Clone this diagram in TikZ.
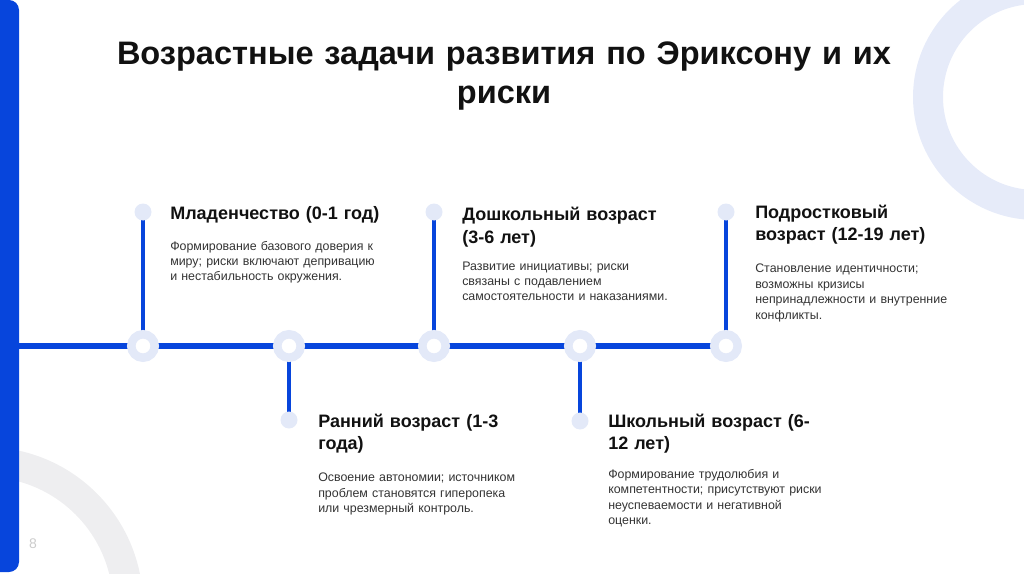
\documentclass[tikz,border=0pt]{standalone}
\usepackage{fontspec}
\setmainfont{Liberation Sans}
\usetikzlibrary{backgrounds}
\definecolor{mainblue}{HTML}{0745DC}
\definecolor{ringc}{HTML}{E3E9F8}
\definecolor{decoblue}{HTML}{E6EBF9}
\definecolor{decogray}{HTML}{EEEEF0}
\definecolor{headc}{HTML}{111111}
\definecolor{descc}{HTML}{333333}
\definecolor{numc}{HTML}{CCCCCC}
\tikzset{
  hub/.style={circle, draw=ringc, line width=6.4pt, fill=white, minimum size=17.6pt, inner sep=0pt},
  dot/.style={circle, fill=ringc, minimum size=12.75pt, inner sep=0pt},
  hline/.style={draw=mainblue, line width=4.5pt},
  vline/.style={draw=mainblue, line width=3.6pt},
  headtxt/.style={anchor=base west, inner sep=0pt, text width=240pt, align=left, text=headc,
     font=\fontsize{13.5}{17}\selectfont\bfseries},
  desctxt/.style={anchor=base west, inner sep=0pt, text width=240pt, align=left, text=descc,
     font=\fontsize{9.3}{11.6}\selectfont},
}
\begin{document}
\begin{tikzpicture}[x=0.75pt,y=-0.75pt]
\useasboundingbox (0,0) rectangle (1024,574);
% nodes
\node[hub] (h1) at (143,346) {};
\node[hub] (h2) at (289,346) {};
\node[hub] (h3) at (434,346) {};
\node[hub] (h4) at (580,346) {};
\node[hub] (h5) at (726,346) {};
\node[dot] (d1) at (143,212) {};
\node[dot] (d2) at (289,420) {};
\node[dot] (d3) at (434,212) {};
\node[dot] (d4) at (580,421) {};
\node[dot] (d5) at (726,212) {};
\coordinate (L) at (19,346);
\begin{pgfonlayer}{background}
  \begin{scope}
    \clip (0,0) rectangle (1024,574);
    \draw[decogray, line width=22.5pt] (-15,605) circle[radius=143];
    \draw[decoblue, line width=22.5pt] (1036,97) circle[radius=108];
    \fill[mainblue, rounded corners=7.5pt] (-30,0) rectangle (19,572);
  \end{scope}
  \draw[hline] (L) -- (h1.center) -- (h2.center) -- (h3.center) -- (h4.center) -- (h5.center);
  \draw[vline] (d1.center) -- (h1.center);
  \draw[vline] (d3.center) -- (h3.center);
  \draw[vline] (d5.center) -- (h5.center);
  \draw[vline] (h2.center) -- (d2.center);
  \draw[vline] (h4.center) -- (d4.center);
\end{pgfonlayer}
% title
\node[anchor=base, inner sep=0pt, text width=675pt, align=center, text=headc,
  font=\fontsize{24.4}{28.9}\selectfont\bfseries] (title) at (504,64.5)
  {Возрастные задачи развития по Эриксону и их\\риски};
% texts
\node[headtxt] (t1) at (170,219.3) {Младенчество (0-1 год)};
\node[desctxt] (s1) at (170,250) {Формирование базового доверия к\\миру; риски включают депривацию\\и нестабильность окружения.};
\node[headtxt] (t2) at (318,427.3) {Ранний возраст (1-3\\года)};
\node[desctxt] (s2) at (318,481.7) {Освоение автономии; источником\\проблем становятся гиперопека\\или чрезмерный контроль.};
\node[headtxt] (t3) at (462,220.5) {Дошкольный возраст\\(3-6 лет)};
\node[desctxt] (s3) at (462,270) {Развитие инициативы; риски\\связаны с подавлением\\самостоятельности и наказаниями.};
\node[headtxt] (t4) at (608,427.3) {Школьный возраст (6-\\12 лет)};
\node[desctxt] (s4) at (608,478.3) {Формирование трудолюбия и\\компетентности; присутствуют риски\\неуспеваемости и негативной\\оценки.};
\node[headtxt] (t5) at (755,218.3) {Подростковый\\возраст (12-19 лет)};
\node[desctxt] (s5) at (755,272.7) {Становление идентичности;\\возможны кризисы\\непринадлежности и внутренние\\конфликты.};
\node[anchor=base, inner sep=0pt, text=numc, font=\fontsize{10.5}{12}\selectfont] (pg) at (33,548) {8};
\end{tikzpicture}
\end{document}
